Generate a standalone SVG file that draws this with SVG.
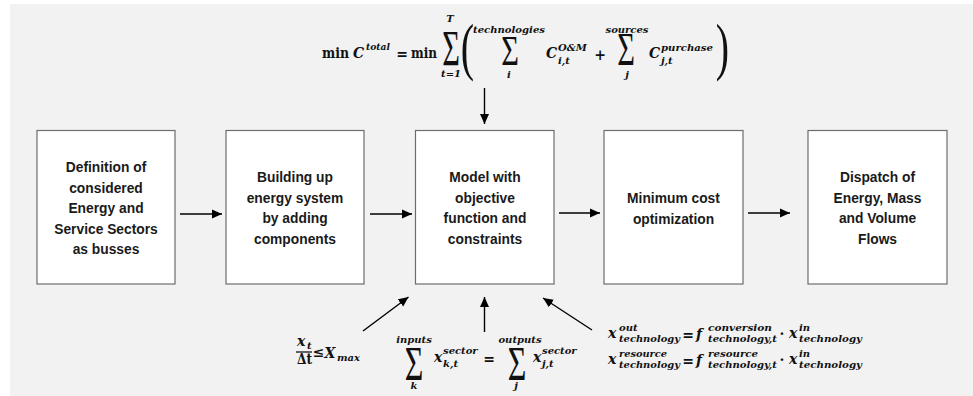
<svg xmlns="http://www.w3.org/2000/svg" width="973" height="396" viewBox="0 0 973 396">
<defs>
<marker id="ah" markerWidth="10" markerHeight="10" refX="10" refY="5" orient="auto" markerUnits="userSpaceOnUse">
<path d="M0,0.5 L10,5 L0,9.5 Z" fill="#000"/>
</marker>
<style>
.box{fill:#fff;stroke:#6d6d6d;stroke-width:1.2}
.bt{font-family:"Liberation Sans",Arial,sans-serif;font-weight:bold;font-size:13.8px;fill:#1a1a1a;text-anchor:middle}
.conn line{stroke:#000;stroke-width:1.4;marker-end:url(#ah)}
.m{font-family:"DejaVu Serif","Liberation Serif",serif;font-weight:bold;font-style:italic;font-size:14px;fill:#111}
.mu{font-family:"DejaVu Serif","Liberation Serif",serif;font-weight:bold;font-size:14px;fill:#111}
.s{font-family:"DejaVu Serif","Liberation Serif",serif;font-weight:bold;font-style:italic;font-size:10px;fill:#111}
.sg{font-family:"Liberation Serif",serif;font-size:32px;fill:#111;text-anchor:middle}
.pr{font-family:"Liberation Serif",serif;font-size:40px;fill:#111;text-anchor:middle}
.c{text-anchor:middle}
</style>
</defs>
<rect x="0" y="0" width="973" height="396" fill="#fff"/>
<rect x="10" y="4" width="963" height="392" fill="#f2f2f2"/>

<g id="node1">
<rect class="box" x="37" y="130.5" width="138" height="153.5"/>
<text class="bt" x="106" y="172">Definition of</text>
<text class="bt" x="106" y="192.5">considered</text>
<text class="bt" x="106" y="213">Energy and</text>
<text class="bt" x="106" y="233.5">Service Sectors</text>
<text class="bt" x="106" y="254">as busses</text>
</g>
<g id="node2">
<rect class="box" x="226" y="130.5" width="138" height="153.5"/>
<text class="bt" x="295" y="182">Building up</text>
<text class="bt" x="295" y="202.5">energy system</text>
<text class="bt" x="295" y="223">by adding</text>
<text class="bt" x="295" y="243.5">components</text>
</g>
<g id="node3">
<rect class="box" x="415.5" y="130.5" width="138.5" height="153.5"/>
<text class="bt" x="485" y="182">Model with</text>
<text class="bt" x="485" y="202.5">objective</text>
<text class="bt" x="485" y="223">function and</text>
<text class="bt" x="485" y="243.5">constraints</text>
</g>
<g id="node4">
<rect class="box" x="604" y="130.5" width="139" height="153.5"/>
<text class="bt" x="673.5" y="203">Minimum cost</text>
<text class="bt" x="673.5" y="223.5">optimization</text>
</g>
<g id="node5">
<rect class="box" x="808" y="130.5" width="139" height="153.5"/>
<text class="bt" x="877.5" y="182">Dispatch of</text>
<text class="bt" x="877.5" y="202.5">Energy, Mass</text>
<text class="bt" x="877.5" y="223">and Volume</text>
<text class="bt" x="877.5" y="243.5">Flows</text>
</g>

<g id="connectors" class="conn">
<line x1="180" y1="214" x2="222" y2="214"/>
<line x1="370" y1="214" x2="412" y2="214"/>
<line x1="559" y1="213" x2="600" y2="213"/>
<line x1="748" y1="213" x2="790" y2="213"/>
<line x1="484.5" y1="88" x2="484.5" y2="124"/>
<line x1="363" y1="331" x2="408.5" y2="297"/>
<line x1="484.5" y1="332" x2="484.5" y2="297"/>
<line x1="592" y1="330" x2="543" y2="298"/>
</g>

<g id="objective">
<text class="mu" x="322" y="58" textLength="27" lengthAdjust="spacingAndGlyphs">min</text>
<text class="m" x="353" y="58" font-size="15">C</text>
<text class="s" x="366" y="50" textLength="24" lengthAdjust="spacingAndGlyphs">total</text>
<text class="mu c" x="402" y="59">=</text>
<text class="mu" x="411" y="58" textLength="26" lengthAdjust="spacingAndGlyphs">min</text>
<text class="sg" font-size="33" transform="translate(451,65) scale(0.95,1.55)">Σ</text>
<text class="s c" x="450" y="22">T</text>
<text class="s c" x="451" y="77">t=1</text>
<text class="pr" transform="translate(467.5,68) scale(1,1.58)">(</text>
<text class="s c" x="509" y="33" textLength="72" lengthAdjust="spacingAndGlyphs">technologies</text>
<text class="sg" font-size="31" transform="translate(510,65) scale(0.95,1.35)">Σ</text>
<text class="s c" x="509" y="78">i</text>
<text class="m" x="546" y="58" font-size="15">C</text>
<text class="s" x="558" y="51">O&amp;M</text>
<text class="s" x="558" y="64">i,t</text>
<text class="mu c" x="600" y="60">+</text>
<text class="s c" x="627" y="33">sources</text>
<text class="sg" font-size="29" transform="translate(626,65) scale(0.95,1.45)">Σ</text>
<text class="s c" x="627" y="78">j</text>
<text class="m" x="649" y="58" font-size="15">C</text>
<text class="s" x="661" y="51" textLength="52" lengthAdjust="spacingAndGlyphs">purchase</text>
<text class="s" x="661" y="64">j,t</text>
<text class="pr" transform="translate(722.5,68) scale(1,1.58)">)</text>
</g>

<g id="constraint-capacity">
<text class="m" x="297" y="346">x</text>
<text class="s" x="307" y="349">t</text>
<line x1="296" y1="352" x2="312" y2="352" stroke="#111" stroke-width="1.3"/>
<text class="mu" x="297" y="364" textLength="15" lengthAdjust="spacingAndGlyphs">Δt</text>
<text class="mu c" x="318.5" y="357" font-size="11">≤</text>
<text class="m" x="324.5" y="358" font-size="15">X</text>
<text class="s" x="337" y="361">max</text>
</g>

<g id="constraint-balance">
<text class="s c" x="414" y="343">inputs</text>
<text class="sg" font-size="31" transform="translate(414,380) scale(1,1.5)">Σ</text>
<text class="s c" x="414" y="389">k</text>
<text class="m" x="434" y="362">x</text>
<text class="s" x="443" y="354">sector</text>
<text class="s" x="443" y="367">k,t</text>
<text class="mu c" x="489" y="364">=</text>
<text class="s c" x="520" y="343">outputs</text>
<text class="sg" font-size="31" transform="translate(517,380) scale(1,1.5)">Σ</text>
<text class="s c" x="516" y="389">j</text>
<text class="m" x="533" y="362">x</text>
<text class="s" x="542" y="354">sector</text>
<text class="s" x="542" y="367">j,t</text>
</g>

<g id="constraint-conversion">
<text class="m" x="608" y="338">x</text>
<text class="s" x="619" y="331">out</text>
<text class="s" x="619" y="342" textLength="61" lengthAdjust="spacingAndGlyphs">technology</text>
<text class="mu c" x="688" y="340">=</text>
<text class="m" x="696" y="339" font-size="17">f</text>
<text class="s" x="708" y="331" textLength="64" lengthAdjust="spacingAndGlyphs">conversion</text>
<text class="s" x="708" y="342" textLength="69" lengthAdjust="spacingAndGlyphs">technology,t</text>
<text class="mu c" x="782" y="339">·</text>
<text class="m" x="789" y="338">x</text>
<text class="s" x="799" y="331">in</text>
<text class="s" x="799" y="342" textLength="63" lengthAdjust="spacingAndGlyphs">technology</text>

<text class="m" x="608" y="364">x</text>
<text class="s" x="619" y="357" textLength="48" lengthAdjust="spacingAndGlyphs">resource</text>
<text class="s" x="619" y="368" textLength="61" lengthAdjust="spacingAndGlyphs">technology</text>
<text class="mu c" x="688" y="366">=</text>
<text class="m" x="696" y="365" font-size="17">f</text>
<text class="s" x="708" y="357" textLength="50" lengthAdjust="spacingAndGlyphs">resource</text>
<text class="s" x="708" y="368" textLength="69" lengthAdjust="spacingAndGlyphs">technology,t</text>
<text class="mu c" x="782" y="365">·</text>
<text class="m" x="789" y="364">x</text>
<text class="s" x="799" y="357">in</text>
<text class="s" x="799" y="368" textLength="63" lengthAdjust="spacingAndGlyphs">technology</text>
</g>
</svg>
